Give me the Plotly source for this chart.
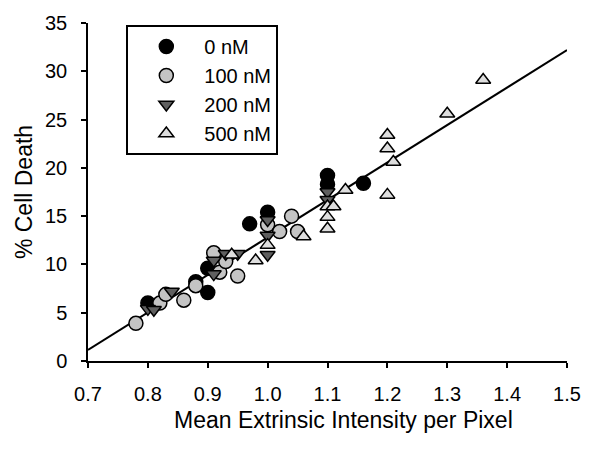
import plotly.graph_objects as go

# 0 nM
x0 = [0.80, 0.88, 0.90, 0.90, 0.97, 1.00, 1.10, 1.10, 1.16]
y0 = [6.0, 8.2, 7.1, 9.6, 14.2, 15.4, 19.2, 18.3, 18.4]

# 100 nM
x100 = [0.78, 0.82, 0.83, 0.86, 0.88, 0.91, 0.92, 0.93, 0.95, 1.00, 1.02, 1.04, 1.05]
y100 = [3.9, 6.0, 6.9, 6.3, 7.8, 11.2, 9.2, 10.3, 8.8, 14.1, 13.4, 15.0, 13.4]

# 200 nM
x200 = [0.80, 0.81, 0.84, 0.91, 0.91, 0.93, 0.95, 1.00, 1.00, 1.00, 1.10, 1.10]
y200 = [5.4, 5.3, 7.2, 9.0, 10.4, 11.1, 11.1, 14.6, 13.0, 11.0, 17.5, 16.7]

# 500 nM
x500 = [0.94, 0.98, 1.00, 1.06, 1.10, 1.10, 1.10, 1.11, 1.13, 1.20, 1.20, 1.20, 1.21, 1.30, 1.36]
y500 = [11.0, 10.4, 12.0, 12.9, 13.7, 14.9, 16.0, 16.0, 17.7, 17.2, 22.0, 23.4, 20.6, 25.6, 29.1]

# regression line endpoints
fit_x = [0.7, 1.5]
fit_y = [1.15, 32.2]

x_ticks = [0.7, 0.8, 0.9, 1.0, 1.1, 1.2, 1.3, 1.4, 1.5]
y_ticks = [0, 5, 10, 15, 20, 25, 30, 35]

FONT = "Liberation Sans, Arial, sans-serif"

fig = go.Figure()

fig.add_trace(go.Scatter(x=fit_x, y=fit_y, mode="lines",
                         line=dict(color="black", width=2), showlegend=False,
                         hoverinfo="skip"))

series = [
    ("0 nM", x0, y0, "circle", "#000000", "g0", 14),
    ("100 nM", x100, y100, "circle", "#c4c4c4", "g1", 14),
    ("200 nM", x200, y200, "triangle-down", "#5f5f5f", "g2", 13),
    ("500 nM", x500, y500, "triangle-up", "#dedede", "g3", 13),
]
for name, xs, ys, sym, col, grp, sz in series:
    fig.add_trace(go.Scatter(
        x=xs, y=ys, mode="markers", name=name, legendgroup=grp,
        marker=dict(symbol=sym, size=sz, color=col,
                    line=dict(color="black", width=1.5)),
    ))

fig.update_layout(
    width=593, height=449,
    margin=dict(l=88, r=16, t=23, b=88),
    paper_bgcolor="white", plot_bgcolor="white",
    font=dict(family=FONT, size=20, color="black"),
    legend=dict(x=0.08, y=0.994, xanchor="left", yanchor="top",
                bordercolor="black", borderwidth=2, bgcolor="white",
                font=dict(family=FONT, size=20), tracegroupgap=0, traceorder="grouped",
                itemwidth=66),
    xaxis=dict(range=[0.7, 1.5], tickvals=x_ticks, ticktext=[f"{v:.1f}" for v in x_ticks],
               showline=True, linecolor="black", linewidth=1.5, ticks="outside",
               ticklen=5, tickwidth=1.5, tickcolor="black", showgrid=False,
               zeroline=False, ticklabelstandoff=9,
               tickfont=dict(family=FONT, size=20)),
    yaxis=dict(range=[0, 35], tickvals=y_ticks,
               showline=True, linecolor="black", linewidth=1.5, ticks="outside",
               ticklen=5, tickwidth=1.5, tickcolor="black", showgrid=False,
               zeroline=False, ticklabelstandoff=10,
               tickfont=dict(family=FONT, size=20),
               title=dict(text="% Cell Death", standoff=6,
                          font=dict(family=FONT, size=23))),
    annotations=[
        dict(text="Mean Extrinsic Intensity per Pixel", xref="paper", yref="paper",
             x=0.534, y=-0.175, xanchor="center", yanchor="middle",
             showarrow=False, font=dict(family=FONT, size=23, color="black")),
    ],
)

fig.write_html("out.html")
